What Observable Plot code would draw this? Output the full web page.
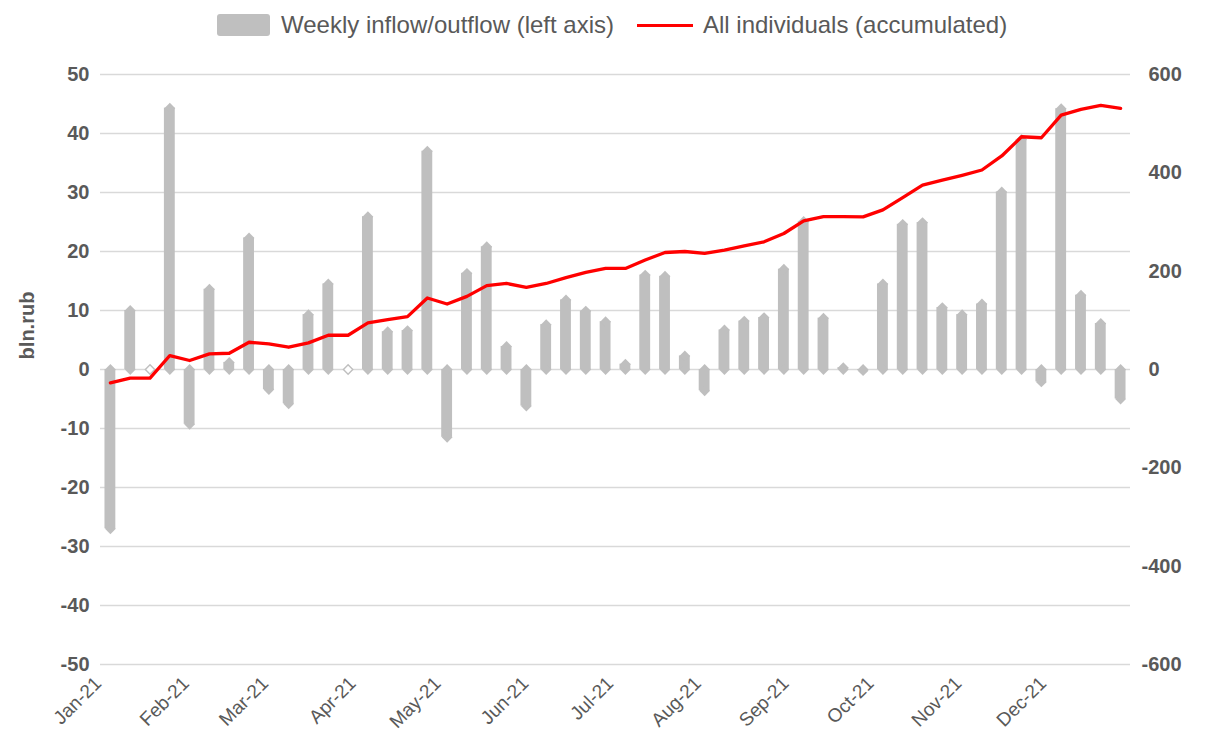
<!DOCTYPE html>
<html><head><meta charset="utf-8">
<script src="https://cdn.jsdelivr.net/npm/d3@7"></script>
<script src="https://cdn.jsdelivr.net/npm/@observablehq/plot@0.6"></script>
<style>
body{margin:0;background:#fff;font-family:"Liberation Sans",Arial,sans-serif;}
#legend{position:relative;height:50px;width:1210px;}
#legend .row{position:absolute;left:217px;top:0;height:50px;display:flex;align-items:center;color:#595959;font-size:24px;white-space:nowrap;}
#legend .sw{width:53px;height:22px;background:#bfbfbf;border-radius:3px;margin-right:11px;}
#legend .ln{width:56px;height:3px;background:#ff0000;margin-left:23px;margin-right:10px;}
</style></head><body>
<div id="legend"><div class="row"><div class="sw"></div><span id="l1"></span><div class="ln"></div><span id="l2"></span></div></div>
<div id="chart"></div>
<script>
const weekDates = ["2021-01-01","2021-01-08","2021-01-15","2021-01-22","2021-01-29",
"2021-02-05","2021-02-12","2021-02-19","2021-02-26",
"2021-03-05","2021-03-12","2021-03-19","2021-03-26",
"2021-04-02","2021-04-09","2021-04-16","2021-04-23","2021-04-30",
"2021-05-07","2021-05-14","2021-05-21","2021-05-28",
"2021-06-04","2021-06-11","2021-06-18","2021-06-25",
"2021-07-02","2021-07-09","2021-07-16","2021-07-23","2021-07-30",
"2021-08-06","2021-08-13","2021-08-20","2021-08-27",
"2021-09-03","2021-09-10","2021-09-17","2021-09-24",
"2021-10-01","2021-10-08","2021-10-15","2021-10-22","2021-10-29",
"2021-11-05","2021-11-12","2021-11-19","2021-11-26",
"2021-12-03","2021-12-10","2021-12-17","2021-12-24"];
const weeklyFlow = [-27, 10, 0, 44.3, -9.3, 13.6, 1.2, 22.3, -3.4, -5.8, 9.3, 14.5, 0, 25.9, 6.4, 6.6, 37.0, -11.5, 16.3, 20.8, 3.9, -6.2, 7.6, 11.8, 9.9, 8.1, 0.9, 16.0, 15.8, 2.3, -3.6, 6.7, 8.2, 8.8, 17.0, 25.1, 8.7, 0.3, -0.2, 14.5, 24.6, 24.9, 10.5, 9.3, 11.1, 30.1, 39.0, -2.1, 44.2, 12.6, 7.8, -5.0];
const accumulated = [-27, -17.6, -17.6, 28.4, 18.3, 31.8, 33.1, 55.4, 52, 45.3, 54.1, 69.7, 69.7, 94.7, 101.5, 107.5, 145.4, 133.2, 148.8, 170.5, 175, 167, 175, 187, 197.5, 205.6, 205.6, 222.6, 238, 240, 236, 243, 251.6, 259.7, 276.6, 302.4, 311, 311, 310.5, 324.7, 349.7, 374.8, 385, 395, 405.8, 434.3, 473.4, 471.4, 517.5, 529, 537, 531];
const monthTicks = ["2021-01-01","2021-02-01","2021-03-01","2021-04-01","2021-05-01","2021-06-01","2021-07-01","2021-08-01","2021-09-01","2021-10-01","2021-11-01","2021-12-01"];
const leftTicks = [-50, -40, -30, -20, -10, 0, 10, 20, 30, 40, 50];
const rightTicks = [-600, -400, -200, 0, 200, 400, 600];
const legendLabels = ["Weekly inflow/outflow (left axis)", "All individuals (accumulated)"];
const axisTitle = "bln.rub";

document.getElementById("l1").textContent = legendLabels[0];
document.getElementById("l2").textContent = legendLabels[1];

const data = weekDates.map((d, i) => ({date: new Date(d + "T00:00Z"), flow: weeklyFlow[i], acc: accumulated[i]}));
const nonZero = data.filter(d => d.flow !== 0);
const zeros = data.filter(d => d.flow === 0);
const months = monthTicks.map(d => new Date(d + "T00:00Z"));
const ratio = 12; // right axis / left axis
const fmt = d3.utcFormat("%b-%y");
const grey = "#bfbfbf", textCol = "#595959";
const rightNeg = rightTicks.filter(v => v < 0).map(v => v / ratio);
const rightPos = rightTicks.filter(v => v >= 0).map(v => v / ratio);
const rightFmt = d => String(Math.round(d * ratio));

const chart = Plot.plot({
  width: 1210, height: 688,
  marginTop: 24, marginBottom: 74, marginLeft: 100, marginRight: 80,
  style: {fontFamily: '"Liberation Sans", Arial, sans-serif', background: "#fff"},
  x: {type: "utc", domain: [new Date("2020-12-28T12:00Z"), new Date("2021-12-27T12:00Z")], axis: null},
  y: {domain: [-50, 50], axis: null},
  marks: [
    Plot.gridY(leftTicks, {stroke: "#d9d9d9", strokeOpacity: 1, strokeWidth: 1.5}),
    Plot.rect(nonZero, {x1: d => d3.utcHour.offset(d.date, -46), x2: d => d3.utcHour.offset(d.date, 46), y1: 0, y2: "flow", fill: grey}),
    Plot.dot(nonZero, {x: "date", y: 0, symbol: "diamond2", r: 4.87, fill: grey}),
    Plot.dot(nonZero, {x: "date", y: "flow", symbol: "diamond2", r: 4.87, fill: grey}),
    Plot.dot(zeros, {x: "date", y: "flow", symbol: "diamond2", r: 4.2, fill: "#fff", stroke: grey, strokeWidth: 1.4}),
    Plot.line(data, {x: "date", y: d => d.acc / ratio, stroke: "#ff0000", strokeWidth: 3.3, strokeLinejoin: "round"}),
    Plot.axisY(leftTicks, {anchor: "left", tickSize: 0, tickPadding: 11, tickFormat: d => String(d), fontSize: 20, fontWeight: "bold", color: textCol, label: null}),
    Plot.axisY(rightNeg, {anchor: "right", tickSize: 0, tickPadding: 11, tickFormat: rightFmt, fontSize: 20, fontWeight: "bold", color: textCol, label: null}),
    Plot.axisY(rightPos, {anchor: "right", tickSize: 0, tickPadding: 18, tickFormat: rightFmt, fontSize: 20, fontWeight: "bold", color: textCol, label: null}),
    Plot.text(months, {x: d => d, frameAnchor: "bottom", text: d => fmt(d), rotate: -45, textAnchor: "end", dx: -8, dy: 20, fontSize: 19, fill: textCol}),
    Plot.text([axisTitle], {frameAnchor: "left", textAnchor: "middle", dx: -73, dy: -44, rotate: -90, fontSize: 20, fontWeight: "bold", fill: textCol})
  ]
});
document.getElementById("chart").appendChild(chart);
</script>
</body></html>
